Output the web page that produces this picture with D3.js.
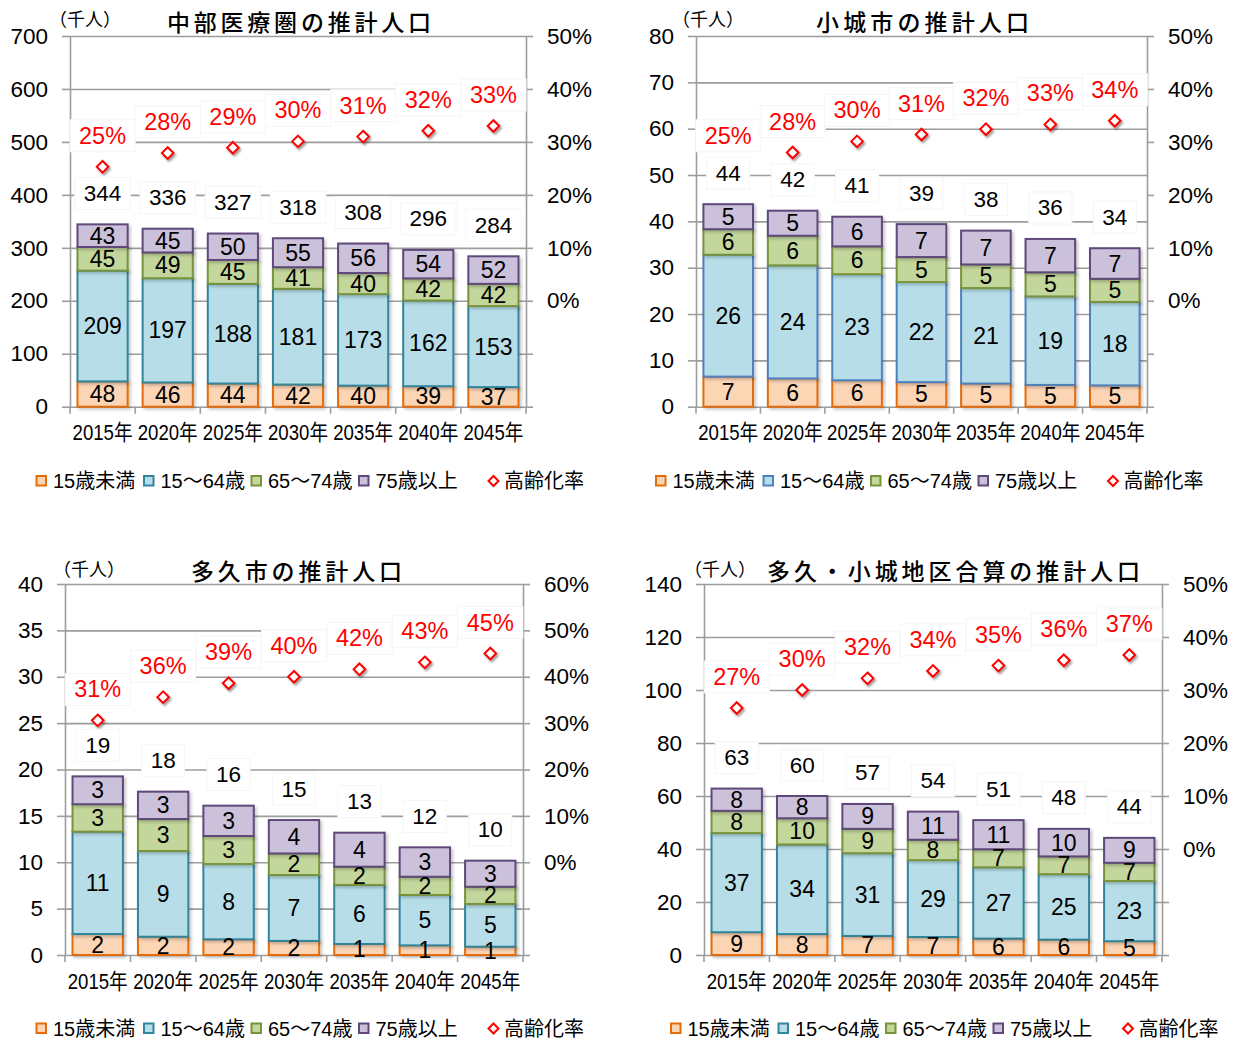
<!DOCTYPE html>
<html>
<head>
<meta charset="utf-8">
<script src="https://cdn.jsdelivr.net/npm/d3@7"></script>
<style>
  html, body { margin: 0; padding: 0; background: #fff; }
  svg { display: block; }
</style>
</head>
<body>
<svg id="chart" width="1237" height="1041"></svg>
<script>
// ---- data (thousands of people / ageing rate in %) ----
const years = ["2015年", "2020年", "2025年", "2030年", "2035年", "2040年", "2045年"];
const ageGroups = ["15歳未満", "15～64歳", "65～74歳", "75歳以上"];
const rateName = "高齢化率";

// 中部医療圏
const chubuUnder15 = [47.8, 45.8, 43.8, 41.8, 39.8, 38.7, 37.0];
const chubu15to64  = [209.2, 196.8, 188.2, 180.8, 172.8, 161.8, 153.0];
const chubu65to74  = [44.6, 48.7, 45.1, 40.8, 39.8, 41.8, 42.0];
const chubu75plus  = [42.7, 44.8, 49.9, 54.7, 55.7, 53.8, 52.0];
const chubuRate    = [25.3, 27.9, 28.9, 30.1, 31.0, 32.1, 33.0];

// 小城市
const ogiUnder15 = [6.5, 6.1, 5.7, 5.3, 5.0, 4.7, 4.6];
const ogi15to64  = [26.3, 24.4, 22.9, 21.6, 20.6, 19.1, 18.0];
const ogi65to74  = [5.5, 6.4, 6.0, 5.4, 5.1, 5.2, 5.0];
const ogi75plus  = [5.4, 5.4, 6.4, 7.1, 7.3, 7.2, 6.6];
const ogiRate    = [25.3, 28.0, 30.1, 31.4, 32.4, 33.3, 34.0];

// 多久市
const takuUnder15 = [2.26, 1.97, 1.69, 1.52, 1.19, 1.04, 0.90];
const taku15to64  = [11.04, 9.24, 8.12, 7.10, 6.36, 5.43, 4.60];
const taku65to74  = [2.96, 3.45, 3.02, 2.33, 1.97, 1.97, 1.86];
const taku75plus  = [3.00, 2.95, 3.27, 3.60, 3.67, 3.17, 2.81];
const takuRate    = [30.6, 35.6, 38.6, 40.0, 41.6, 43.1, 45.0];

// 多久・小城地区合算
const gassanUnder15 = [8.6, 7.9, 7.2, 6.8, 6.2, 5.8, 5.2];
const gassan15to64  = [37.4, 33.8, 31.2, 29.0, 26.9, 24.7, 22.7];
const gassan65to74  = [8.4, 9.9, 9.2, 7.7, 6.8, 6.7, 6.9];
const gassan75plus  = [8.4, 8.4, 9.4, 10.6, 11.0, 10.4, 9.4];
const gassanRate    = [26.6, 30.0, 32.2, 33.6, 34.6, 35.6, 36.6];

// ---- styling ----
const FILLS   = ["#FCD5B5", "#B7DEE8", "#C3D69B", "#CCC1DA"];
const STROKES = ["#E46C0A", "#31859C", "#77933C", "#5F497A"];
const GRID = "#9d9d9d";
const RED = "#FF0000";
const NUM_FONT = '"Liberation Sans", Arial, "Noto Sans CJK JP", sans-serif';
const JP_FONT  = '"Noto Sans CJK JP", "Liberation Sans", sans-serif';

const panels = [
  { title: "中部医療圏の推計人口", titleX: 167, titleW: 264, titleY: 21, unitX: 85, unitY: 18,
    left: 70, right: 526, top: 36, bottom: 406.7, yMax: 700, yStep: 100, rMax: 50,
    legendX: 36.5, legendY: 481,
    series: [chubuUnder15, chubu15to64, chubu65to74, chubu75plus], rate: chubuRate },
  { title: "小城市の推計人口", titleX: 816, titleW: 213, titleY: 21, unitX: 708, unitY: 18,
    left: 696, right: 1147, top: 36, bottom: 406.7, yMax: 80, yStep: 10, rMax: 50,
    legendX: 656, legendY: 481, workStroke: "#4F81BD",
    series: [ogiUnder15, ogi15to64, ogi65to74, ogi75plus], rate: ogiRate },
  { title: "多久市の推計人口", titleX: 191, titleW: 211, titleY: 570, unitX: 89, unitY: 568,
    left: 65, right: 523, top: 584, bottom: 955, yMax: 40, yStep: 5, rMax: 60,
    legendX: 36.5, legendY: 1028.5,
    series: [takuUnder15, taku15to64, taku65to74, taku75plus], rate: takuRate },
  { title: "多久・小城地区合算の推計人口", titleX: 767, titleW: 373, titleY: 570, unitX: 720, unitY: 568,
    left: 704, right: 1162, top: 584, bottom: 955, yMax: 140, yStep: 20, rMax: 50,
    legendX: 671, legendY: 1028.5,
    series: [gassanUnder15, gassan15to64, gassan65to74, gassan75plus], rate: gassanRate }
];

const svg = d3.select("#chart");
const defs = svg.append("defs");
defs.append("filter").attr("id", "barShadow")
  .attr("x", "-20%").attr("y", "-20%").attr("width", "140%").attr("height", "140%")
  .append("feDropShadow").attr("dx", 2).attr("dy", 2).attr("stdDeviation", 1.4)
  .attr("flood-color", "#000").attr("flood-opacity", 0.22);
defs.append("filter").attr("id", "markShadow")
  .attr("x", "-50%").attr("y", "-50%").attr("width", "200%").attr("height", "200%")
  .append("feDropShadow").attr("dx", 1.5).attr("dy", 2).attr("stdDeviation", 1)
  .attr("flood-color", "#000").attr("flood-opacity", 0.4);

const diamond = s => `M0,${-s}L${s},0L0,${s}L${-s},0Z`;

// text with a white backing box, the way the value labels sit over the grid
function boxedLabel(layer, cx, cy, str, color, size) {
  const grp = layer.append("g");
  const rect = grp.append("rect").attr("fill", "#fff").attr("stroke", "#f5f5f5").attr("stroke-width", 1);
  const t = grp.append("text")
    .attr("x", cx).attr("y", cy)
    .attr("text-anchor", "middle").attr("dominant-baseline", "central")
    .attr("font-family", NUM_FONT).attr("font-size", size).attr("fill", color)
    .text(str);
  const bb = t.node().getBBox();
  rect.attr("x", bb.x - 9).attr("y", cy - 16).attr("width", bb.width + 18).attr("height", 32);
}

function drawPanel(p) {
  const g = svg.append("g");
  const W = p.right - p.left;
  const x = d3.scaleBand().domain(years).range([p.left, p.right]).paddingInner(0.23).paddingOuter(0.115);
  const y = d3.scaleLinear().domain([0, p.yMax]).range([p.bottom, p.top]);
  const r = d3.scaleLinear().domain([-20, p.rMax]).range([p.bottom, p.top]);
  const yTicks = d3.range(0, p.yMax + p.yStep / 2, p.yStep);
  const strokes = STROKES.slice();
  if (p.workStroke) strokes[1] = p.workStroke;

  // horizontal gridlines
  g.append("g").attr("transform", `translate(${p.left},0)`)
    .call(d3.axisLeft(y).tickValues(yTicks).tickSize(-W).tickFormat(""))
    .call(s => s.select(".domain").remove())
    .selectAll("line").attr("stroke", GRID).attr("stroke-width", 1.6);

  // left axis (thousands)
  const la = g.append("g").attr("transform", `translate(${p.left},0)`)
    .call(d3.axisLeft(y).tickValues(yTicks).tickSize(8).tickSizeOuter(0).tickPadding(14));
  la.select(".domain").attr("stroke", GRID).attr("stroke-width", 1.6);
  la.selectAll("line").attr("stroke", GRID).attr("stroke-width", 1.6);
  la.selectAll("text").attr("font-family", NUM_FONT).attr("font-size", 22.5).attr("fill", "#000");

  // right axis (ageing rate)
  const ra = g.append("g").attr("transform", `translate(${p.right},0)`)
    .call(d3.axisRight(r).tickValues(d3.range(-20, p.rMax + 1, 10)).tickSize(7).tickSizeOuter(0)
      .tickPadding(14).tickFormat(d => d >= 0 ? d + "%" : ""));
  ra.select(".domain").attr("stroke", GRID).attr("stroke-width", 1.6);
  ra.selectAll("line").attr("stroke", GRID).attr("stroke-width", 1.6);
  ra.selectAll("text").attr("font-family", NUM_FONT).attr("font-size", 22.5).attr("fill", "#000");

  // category boundary ticks under the base line
  g.append("g").selectAll("line")
    .data(d3.range(years.length + 1))
    .join("line")
    .attr("x1", i => p.left + i * x.step()).attr("x2", i => p.left + i * x.step())
    .attr("y1", p.bottom).attr("y2", p.bottom + 7)
    .attr("stroke", GRID).attr("stroke-width", 1.6);

  // year labels
  g.append("g").selectAll("text")
    .data(years)
    .join("text")
    .attr("x", d => x(d) + x.bandwidth() / 2)
    .attr("y", p.bottom + 26)
    .attr("text-anchor", "middle").attr("dominant-baseline", "central")
    .attr("font-family", NUM_FONT).attr("font-size", 22)
    .attr("textLength", 60).attr("lengthAdjust", "spacingAndGlyphs")
    .text(d => d);

  // stacked bars
  const rows = years.map((yr, i) => ({ year: yr, a: p.series[0][i], b: p.series[1][i], c: p.series[2][i], d: p.series[3][i] }));
  const stacked = d3.stack().keys(["a", "b", "c", "d"])(rows);
  const barLayer = g.append("g");
  stacked.forEach((layer, k) => {
    barLayer.append("g").attr("filter", "url(#barShadow)")
      .selectAll("rect")
      .data(layer)
      .join("rect")
      .attr("x", d => x(d.data.year))
      .attr("width", x.bandwidth())
      .attr("y", d => y(d[1]))
      .attr("height", d => y(d[0]) - y(d[1]))
      .attr("fill", FILLS[k]).attr("stroke", strokes[k]).attr("stroke-width", 2);
  });
  stacked.forEach(layer => {
    barLayer.append("g").selectAll("text")
      .data(layer)
      .join("text")
      .attr("x", d => x(d.data.year) + x.bandwidth() / 2)
      .attr("y", d => y((d[0] + d[1]) / 2))
      .attr("text-anchor", "middle").attr("dominant-baseline", "central")
      .attr("font-family", NUM_FONT).attr("font-size", 23).attr("fill", "#000")
      .text(d => Math.round(d[1] - d[0]));
  });

  // ageing-rate markers
  g.append("g").attr("filter", "url(#markShadow)")
    .selectAll("path")
    .data(years)
    .join("path")
    .attr("transform", (d, i) => `translate(${x(d) + x.bandwidth() / 2},${r(p.rate[i])})`)
    .attr("d", diamond(5.8))
    .attr("fill", "#fff").attr("stroke", RED).attr("stroke-width", 2);

  // ageing-rate labels
  const rateLayer = g.append("g");
  years.forEach((yr, i) => {
    boxedLabel(rateLayer, x(yr) + x.bandwidth() / 2, r(p.rate[i]) - 31, Math.round(p.rate[i]) + "%", RED, 23.5);
  });

  // totals above the bars
  const totalLayer = g.append("g");
  years.forEach((yr, i) => {
    const total = p.series.reduce((s, arr) => s + arr[i], 0);
    boxedLabel(totalLayer, x(yr) + x.bandwidth() / 2, y(total) - 31, Math.round(total), "#000", 22.5);
  });

  // title and unit
  g.append("text")
    .attr("x", p.titleX).attr("y", p.titleY)
    .attr("dominant-baseline", "central")
    .attr("font-family", JP_FONT).attr("font-size", 23).attr("font-weight", 500)
    .attr("textLength", p.titleW).attr("lengthAdjust", "spacing")
    .text(p.title);
  g.append("text")
    .attr("x", p.unitX).attr("y", p.unitY)
    .attr("text-anchor", "middle").attr("dominant-baseline", "central")
    .attr("font-family", JP_FONT).attr("font-size", 18)
    .text("（千人）");

  // legend
  const lg = g.append("g");
  ageGroups.forEach((name, k) => {
    const lx = p.legendX + k * 107.5;
    lg.append("rect")
      .attr("x", lx).attr("y", p.legendY - 5).attr("width", 9.5).attr("height", 9.5)
      .attr("fill", FILLS[k]).attr("stroke", strokes[k]).attr("stroke-width", 2);
    lg.append("text")
      .attr("x", lx + 16.5).attr("y", p.legendY)
      .attr("dominant-baseline", "central")
      .attr("font-family", NUM_FONT).attr("font-size", 20)
      .text(name);
  });
  lg.append("path")
    .attr("transform", `translate(${p.legendX + 457},${p.legendY})`)
    .attr("d", diamond(5))
    .attr("fill", "#fff").attr("stroke", RED).attr("stroke-width", 2);
  lg.append("text")
    .attr("x", p.legendX + 467.5).attr("y", p.legendY)
    .attr("dominant-baseline", "central")
    .attr("font-family", NUM_FONT).attr("font-size", 20)
    .text(rateName);
}

panels.forEach(drawPanel);
</script>
</body>
</html>
